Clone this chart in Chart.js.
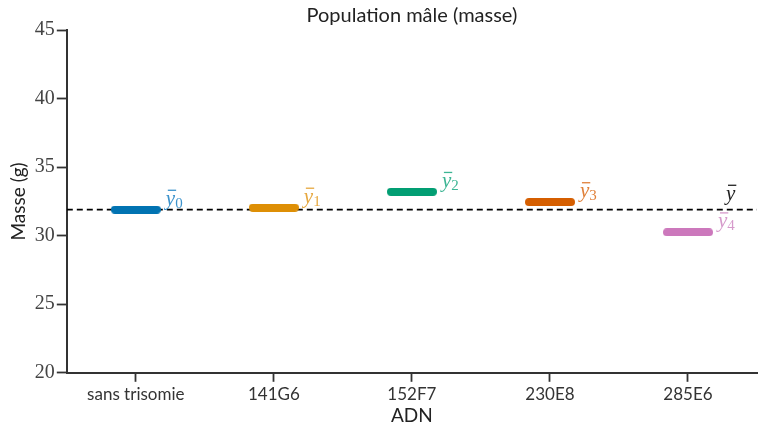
<!DOCTYPE html>
<html>
<head>
<meta charset="utf-8">
<script src="https://cdn.jsdelivr.net/npm/chart.js@4/dist/chart.umd.min.js"></script>
<style>
  html, body { margin: 0; padding: 0; background: #fff; }
  #wrap { width: 758px; height: 427px; }
</style>
</head>
<body>
<div id="wrap"><canvas id="masse"></canvas></div>
<script>
// groupes et moyennes de masse (g)
const groups = ['sans trisomie', '141G6', '152F7', '230E8', '285E6'];
const means = [31.9, 32.05, 33.2, 32.45, 30.25];
const overallMean = 31.9;
const yTicks = [20, 25, 30, 35, 40, 45];
const colors = ['#0173b2', '#de8f05', '#029e73', '#d55e00', '#cc78bc'];
const labelColors = ['#3d93cc', '#e6a840', '#3db594', '#e0803a', '#d69acb'];

// petit trait arrondi utilisé comme pointStyle
function capImage(color) {
    const c = document.createElement('canvas');
    c.width = 50; c.height = 8;
    const g = c.getContext('2d');
    g.strokeStyle = color;
    g.lineWidth = 8;
    g.lineCap = 'round';
    g.beginPath();
    g.moveTo(4, 4);
    g.lineTo(46, 4);
    g.stroke();
    return c;
}

// ȳ avec indice
function drawYbar(ctx, x, y, color, sub) {
    ctx.save();
    ctx.fillStyle = color;
    ctx.textBaseline = 'alphabetic';
    ctx.textAlign = 'left';
    ctx.font = 'italic 21px "Liberation Serif"';
    ctx.fillText('y', x, y);
    const w = ctx.measureText('y').width;
    ctx.fillRect(x + 2, y - 15, w - 1, 1.3);
    if (sub !== null) {
        ctx.font = '15px "Liberation Serif"';
        ctx.fillText(String(sub), x + w, y + 3);
    }
    ctx.restore();
}

const labelsPlugin = {
    id: 'labels',
    afterDatasetsDraw(chart) {
        const ctx = chart.ctx;
        groups.forEach((g, i) => {
            const pt = chart.getDatasetMeta(i).data[0];
            drawYbar(ctx, pt.x + 30, pt.y - 5, labelColors[i], i);
        });
        const yPix = chart.scales.y.getPixelForValue(overallMean);
        drawYbar(ctx, chart.chartArea.right - 31, yPix - 10, '#222', null);
    }
};

const ctxMasse = document.getElementById('masse').getContext('2d');
const datasets = groups.map((g, i) => ({
    label: g,
    data: [{ x: i, y: means[i] }],
    pointStyle: capImage(colors[i]),
    pointRadius: 25,
    order: 0
}));
datasets.push({
    label: 'moyenne',
    data: [{ x: -0.5, y: overallMean }, { x: groups.length - 0.5, y: overallMean }],
    showLine: true,
    borderColor: '#000',
    borderWidth: 1.8,
    borderDash: [6, 4],
    pointRadius: 0,
    order: 1
});

const chartMasse = new Chart(ctxMasse, {
    type: 'scatter',
    data: { datasets: datasets },
    options: {
        responsive: true,
        maintainAspectRatio: false,
        animation: false,
        layout: { autoPadding: false, padding: { left: 7, right: 1, top: 2, bottom: 0 } },
        scales: {
            x: {
                type: 'linear',
                min: -0.5,
                max: groups.length - 0.5,
                afterBuildTicks(scale) {
                    scale.ticks = groups.map((g, i) => ({ value: i }));
                },
                ticks: {
                    callback: (v) => groups[v],
                    color: '#333',
                    font: { family: 'Lato', size: 17 },
                    padding: 3,
                    maxRotation: 0,
                    autoSkip: false
                },
                grid: { drawOnChartArea: false, tickLength: 9, tickWidth: 1.8, tickColor: '#333' },
                border: { color: '#333', width: 2 },
                title: {
                    display: true,
                    text: 'ADN',
                    color: '#222',
                    font: { family: 'Lato', size: 19 },
                    padding: { top: -4, bottom: 0 }
                }
            },
            y: {
                min: 20,
                max: 45,
                afterBuildTicks(scale) {
                    scale.ticks = yTicks.map(v => ({ value: v }));
                },
                ticks: {
                    color: '#444',
                    font: { family: 'Liberation Serif', size: 20 },
                    padding: 2
                },
                grid: { drawOnChartArea: false, tickLength: 10, tickWidth: 1.8, tickColor: '#333' },
                border: { color: '#333', width: 2 },
                title: {
                    display: true,
                    text: 'Masse (g)',
                    color: '#222',
                    font: { family: 'Lato', size: 19 },
                    padding: { top: 0, bottom: 3 }
                }
            }
        },
        plugins: {
            legend: { display: false },
            tooltip: { enabled: false },
            title: {
                display: true,
                text: 'Population mâle (masse)',
                fullSize: false,
                color: '#222',
                font: { family: 'Lato', size: 20, weight: 'normal' },
                padding: { top: 2, bottom: 2 }
            }
        }
    },
    plugins: [labelsPlugin]
});
</script>
</body>
</html>
